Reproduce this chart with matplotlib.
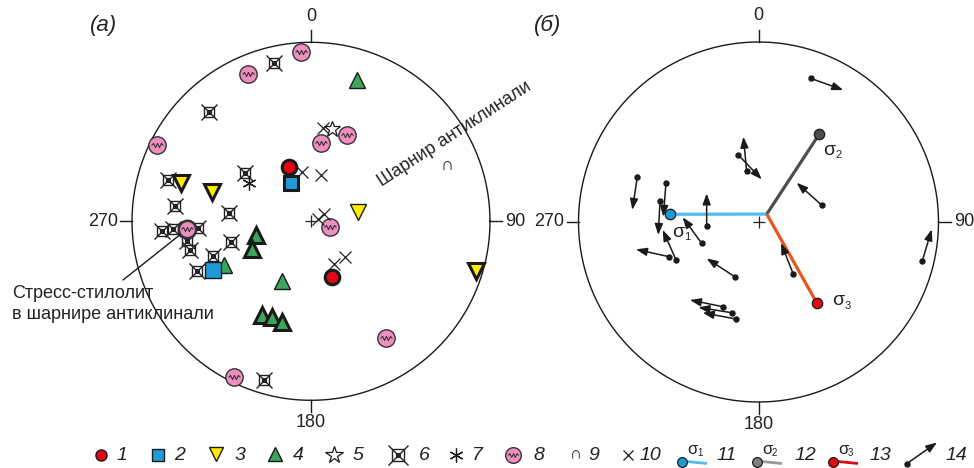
import numpy as np
import matplotlib
matplotlib.use('Agg')
import matplotlib.pyplot as plt
from matplotlib.path import Path

W, H = 974, 468
plt.rcParams['font.family'] = ['Liberation Sans', 'DejaVu Sans']

# ---- (а) poles, stereonet units (x = east, y = north, net radius = 1)
red_pts = [(-0.121, 0.305), (0.119, -0.313)]
blue_bold = [(-0.112, 0.212)]
blue_thin = [(-0.549, -0.272)]
yellow_bold = [(-0.728, 0.212), (-0.555, 0.165), (0.922, -0.278)]
yellow_thin = [(0.261, 0.054)]
green_bold = [(-0.307, -0.077), (-0.328, -0.156), (-0.272, -0.523),
              (-0.220, -0.536), (-0.164, -0.561)]
green_thin = [(0.255, 0.789), (-0.484, -0.244), (-0.164, -0.334)]
star_pts = [(0.116, 0.514)]
crossbox_pts = [(-0.205, 0.883), (-0.568, 0.609), (-0.797, 0.231), (-0.369, 0.268),
                (-0.760, 0.087), (-0.458, 0.048), (-0.834, -0.053), (-0.769, -0.045),
                (-0.630, -0.039), (-0.694, -0.108), (-0.676, -0.160), (-0.449, -0.114),
                (-0.546, -0.194), (-0.639, -0.276), (-0.261, -0.887)]
aster_pts = [(-0.345, 0.212)]
pink_pts = [(-0.056, 0.944), (-0.350, 0.823), (-0.862, 0.426), (0.056, 0.439),
            (0.199, 0.482), (0.106, -0.030), (-0.428, -0.868), (0.419, -0.654)]
pink_hinge = (-0.694, -0.045)   # stress-stylolite in the anticline hinge
hinge_pt = (0.758, 0.315)       # anticline hinge (symbol 9)
cross_pts = [(0.069, 0.520), (-0.052, 0.277), (0.056, 0.257), (0.041, 0.011),
             (0.074, 0.039), (0.128, -0.239), (0.190, -0.201)]

# ---- (б) slip vectors: tail -> head, stereonet units
arrow_tail = [(0.290, 0.798), (-0.112, 0.372), (-0.066, 0.285), (0.351, 0.094),
              (-0.673, 0.252), (-0.514, 0.215), (-0.547, 0.118), (-0.288, -0.022),
              (-0.316, -0.118), (-0.458, -0.211), (-0.496, -0.193), (-0.129, -0.306),
              (-0.196, -0.471), (-0.149, -0.504), (-0.125, -0.539), (0.193, -0.289),
              (0.910, -0.217)]
arrow_head = [(0.471, 0.733), (0.018, 0.237), (-0.084, 0.474), (0.212, 0.218),
              (-0.701, 0.067), (-0.529, 0.029), (-0.557, -0.072), (-0.288, 0.159),
              (-0.421, 0.026), (-0.532, -0.044), (-0.681, -0.152), (-0.288, -0.202),
              (-0.381, -0.433), (-0.334, -0.474), (-0.310, -0.504), (0.125, -0.117),
              (0.962, -0.041)]
sigma_pts = [(-0.492, 0.043), (0.338, 0.489), (0.323, -0.448)]
sigma_mean = (0.046, 0.044)

RED, BLUE, YEL, GRN, PINK = '#E30613', '#1E9BD7', '#FFED00', '#3BA55C', '#EE8EC1'
INK = '#1a1a1a'
sig_fill = [BLUE, '#4D4D4D', RED]
sig_line = ['#4DBDEB', '#4D4D4D', '#E8541E']

zigzag = Path(np.array([[-1, 0], [-0.67, 0.35], [-0.33, -0.35], [0, 0.35],
                        [0.33, -0.35], [0.67, 0.35], [1, 0]]))

fig = plt.figure(figsize=(W / 100, H / 100), dpi=100)


def make_net(cx, cy, R, L=1.4):
    ax = fig.add_axes([(cx - L * R) / W, (H - cy - L * R) / H, 2 * L * R / W, 2 * L * R / H])
    ax.set_xlim(-L, L)
    ax.set_ylim(-L, L)
    ax.axis('off')
    t = np.linspace(0, 2 * np.pi, 361)
    ax.plot(np.cos(t), np.sin(t), color=INK, lw=1.0)
    tk = 1 + 12 / R
    for dx, dy in [(0, 1), (1, 0), (0, -1), (-1, 0)]:
        ax.plot([dx, dx * tk], [dy, dy * tk], color=INK, lw=1.0)
    ax.text(0, 1.145, '0', ha='center', va='center', fontsize=13, color='#222')
    ax.text(1.085, 0, '90', ha='left', va='center', fontsize=13, color='#222')
    ax.text(0, -1.125, '180', ha='center', va='center', fontsize=13, color='#222')
    ax.text(-1.08, 0, '270', ha='right', va='center', fontsize=13, color='#222')
    return ax


def pts(ax, data, **kw):
    a = np.atleast_2d(np.array(data))
    ax.plot(a[:, 0], a[:, 1], ls='none', **kw)


def crossbox(ax, data, s=1.0):
    pts(ax, data, marker='s', ms=7.5 * s, mfc='white', mec='#222', mew=1.0)
    pts(ax, data, marker='x', ms=12 * s, mec='#222', mew=1.0)
    pts(ax, data, marker='s', ms=3 * s, mfc='none', mec='#222', mew=0.8)


def pink(ax, data, mew=1.0, s=1.0):
    pts(ax, data, marker='o', ms=12.5 * s, mfc=PINK, mec='#333', mew=mew)
    pts(ax, data, marker=zigzag, ms=8.5 * s, mfc='none', mec='#333', mew=0.8)


def slip(ax, p0, p1, ms=11):
    ax.annotate('', xy=p1, xytext=p0,
                arrowprops=dict(arrowstyle='-|>,head_length=0.6,head_width=0.22',
                                lw=1.1, color=INK, shrinkA=0, shrinkB=0, mutation_scale=ms))
    ax.plot(*p0, 'o', ms=3.6, color=INK)


def sigma_text(ax, x, y, n, fs=14, sub=8):
    ax.annotate('σ', (x, y), xytext=(0, 0), textcoords='offset points',
                ha='center', va='center', fontsize=fs, color='#222')
    ax.annotate(str(n), (x, y), xytext=(fs * 0.3, -fs * 0.25), textcoords='offset points',
                ha='left', va='center', fontsize=sub, color='#222')


# ---------------- (а)
axa = make_net(311, 221.3, 179)
crossbox(axa, crossbox_pts)
pink(axa, pink_pts)
pink(axa, [pink_hinge], mew=1.8)
pts(axa, cross_pts, marker='x', ms=8, mec='#222', mew=0.9)
pts(axa, [(0, 0)], marker='+', ms=9, mec='#222', mew=0.9)
pts(axa, star_pts, marker='*', ms=12, mfc='white', mec=INK, mew=0.9)
pts(axa, aster_pts, marker=(6, 2, 0), ms=10, mec=INK, mew=0.9)
pts(axa, green_thin, marker='^', ms=12, mfc=GRN, mec=INK, mew=1.0)
pts(axa, green_bold, marker='^', ms=11.5, mfc=GRN, mec=INK, mew=2.2)
pts(axa, yellow_thin, marker='v', ms=12, mfc=YEL, mec=INK, mew=1.0)
pts(axa, yellow_bold, marker='v', ms=11.5, mfc=YEL, mec=INK, mew=2.2)
pts(axa, blue_thin, marker='s', ms=11, mfc=BLUE, mec=INK, mew=1.0)
pts(axa, blue_bold, marker='s', ms=10.5, mfc=BLUE, mec=INK, mew=2.2)
pts(axa, red_pts, marker='o', ms=10.5, mfc=RED, mec=INK, mew=2.2)
axa.text(*hinge_pt, '∩', ha='center', va='center', fontsize=13, color=INK)
axa.text(0.80, 0.485, 'Шарнир антиклинали', rotation=33, rotation_mode='anchor',
         ha='center', va='center', fontsize=13, color='#222')
axa.annotate('', xy=pink_hinge, xytext=(-1.05, -0.328),
             arrowprops=dict(arrowstyle='-', lw=1.0, color=INK, shrinkA=0, shrinkB=6))
axa.text(-1.67, -0.462, 'Стресс-стилолит\nв шарнире антиклинали', ha='left', va='center',
         fontsize=13, linespacing=1.25, color='#222')

# ---------------- (б)
axb = make_net(758.5, 222, 180)
pts(axb, [(0, 0)], marker='+', ms=9, mec='#222', mew=0.9)
for p0, p1 in zip(arrow_tail, arrow_head):
    slip(axb, p0, p1)
for i, p in enumerate(sigma_pts):
    axb.plot([p[0], sigma_mean[0]], [p[1], sigma_mean[1]], color=sig_line[i], lw=2.3,
             solid_capstyle='butt')
for i, p in enumerate(sigma_pts):
    axb.plot(*p, 'o', ms=7.5, mfc=sig_fill[i], mec=INK, mew=0.9)
sigma_text(axb, sigma_pts[0][0] + 0.045, sigma_pts[0][1] - 0.1, 1)
sigma_text(axb, sigma_pts[1][0] + 0.055, sigma_pts[1][1] - 0.09, 2)
sigma_text(axb, sigma_pts[2][0] + 0.12, sigma_pts[2][1] + 0.01, 3)

fig.text(104 / W, 1 - 25 / H, '(а)', ha='center', va='center', fontsize=16, style='italic',
         color='#222')
fig.text(548 / W, 1 - 25 / H, '(б)', ha='center', va='center', fontsize=16, style='italic',
         color='#222')

# ---------------- legend (pixel layout)
ov = fig.add_axes([0, 0, 1, 1])
ov.set_xlim(0, W)
ov.set_ylim(H, 0)
ov.axis('off')
ly = 455
pts(ov, [(101, ly)], marker='o', ms=8, mfc=RED, mec=INK, mew=1.0)
pts(ov, [(158, ly)], marker='s', ms=8, mfc=BLUE, mec=INK, mew=1.0)
pts(ov, [(216, ly - 1)], marker='v', ms=10, mfc=YEL, mec=INK, mew=1.0)
pts(ov, [(275, ly - 1)], marker='^', ms=10, mfc=GRN, mec=INK, mew=1.0)
pts(ov, [(334, ly)], marker='*', ms=13, mfc='white', mec=INK, mew=0.9)
crossbox(ov, [(398, ly)], s=1.2)
pts(ov, [(456, ly)], marker=(6, 2, 0), ms=10, mec=INK, mew=0.9)
pink(ov, [(513, ly)], s=0.9)
ov.text(576, ly, '∩', ha='center', va='center', fontsize=12, color=INK)
pts(ov, [(628, ly)], marker='x', ms=7, mec=INK, mew=0.9)
for i, x0 in enumerate([682, 757, 833]):
    ov.plot([x0, x0 + 25], [ly + 6, ly + 8.5], color=[sig_line[0], '#999999', RED][i], lw=2.0,
            solid_capstyle='butt')
    ov.plot(x0, ly + 6.5, 'o', ms=7, mfc=[BLUE, '#808080', RED][i], mec=INK, mew=0.9)
    sigma_text(ov, x0 + 10, ly - 6, i + 1, fs=12, sub=7)
slip(ov, (907, 463.5), (937, 442.5))
for x, lab in zip([122, 180, 240, 298, 358, 424, 477, 539, 594, 650, 727, 805, 880, 956],
                  range(1, 15)):
    ov.text(x, ly + 1, str(lab), ha='center', va='center', fontsize=14, style='italic',
            color='#222')

fig.savefig('out.png', dpi=100)
